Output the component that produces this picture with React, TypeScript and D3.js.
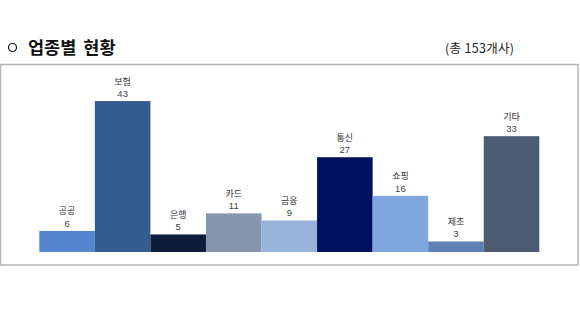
import React from "react";
import * as d3 from "d3";

const categories = ["공공", "보험", "은행", "카드", "금융", "통신", "쇼핑", "제조", "기타"];
const values = [6, 43, 5, 11, 9, 27, 16, 3, 33];
const colors = ["#5585cd", "#345d8f", "#0d1d3a", "#8896ad", "#97b3d9", "#000f5e", "#7fa6df", "#5f81b6", "#4e5c73"];
const title = "업종별 현황";
const note = "(총 153개사)";

const W = 580;
const H = 310;

export default function App() {
  const x = d3.scaleBand<string>().domain(categories).range([39.3, 539.3]).padding(0);
  const y = d3.scaleLinear().domain([0, 50]).range([252, 76.5]);
  const font = "'Noto Sans CJK KR', 'Noto Sans', sans-serif";
  const numFont = "'Liberation Sans', 'DejaVu Sans', sans-serif";
  return (
    <svg width={W} height={H} style={{ position: "absolute", left: 0, top: 0 }}>
      <rect x={0} y={0} width={W} height={H} fill="#fff" />
      <circle cx={12.5} cy={47.5} r={4} fill="none" stroke="#111" strokeWidth={1.2} />
      <text x={28} y={54} fontFamily={font} fontWeight={700} fontSize={17.5} fill="#111">
        {title.split(" ")[0]}
        <tspan dx={7}>{title.split(" ")[1]}</tspan>
      </text>
      <text x={445} y={53} fontFamily={font} fontSize={12.5} fill="#222" letterSpacing={0.3}>{note}</text>
      <rect x={0.5} y={64.5} width={577.5} height={200.5} fill="none" stroke="#b5b5b5" strokeWidth={1.5} />
      {categories.map((c, i) => {
        const bx = x(c)!;
        const bw = x.bandwidth();
        const top = y(values[i]);
        return (
          <g key={c}>
            <rect x={bx} y={top} width={bw} height={y(0) - top} fill={colors[i]} />
            <text x={bx + bw / 2} y={top - 16.5} textAnchor="middle" fontFamily={font} fontSize={9} fill="#333">{c}</text>
            <text x={bx + bw / 2} y={top - 4} textAnchor="middle" fontFamily={numFont} fontSize={9.5} fill="#444">{values[i]}</text>
          </g>
        );
      })}
    </svg>
  );
}
